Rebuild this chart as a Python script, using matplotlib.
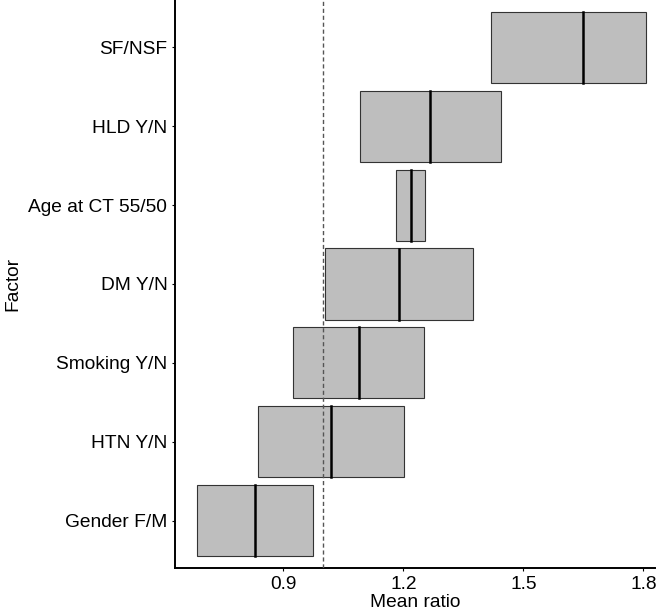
import matplotlib
matplotlib.use("Agg")
import matplotlib.pyplot as plt
from matplotlib.patches import Rectangle

factors = ["Gender F/M", "HTN Y/N", "Smoking Y/N", "DM Y/N", "Age at CT 55/50", "HLD Y/N", "SF/NSF"]
mean_ratio = [0.829, 1.019, 1.089, 1.189, 1.219, 1.266, 1.649]
ci_low = [0.683, 0.836, 0.924, 1.004, 1.181, 1.091, 1.419]
ci_high = [0.973, 1.201, 1.251, 1.374, 1.254, 1.444, 1.806]
xticks = [0.9, 1.2, 1.5, 1.8]

plt.rcParams['font.family'] = ['Liberation Sans', 'DejaVu Sans']

fig = plt.figure(figsize=(6.69, 6.13), dpi=100)
ax = fig.add_axes([175/669, 45/613, 480/669, 568/613])

h = 0.9
for i, (m, lo, hi) in enumerate(zip(mean_ratio, ci_low, ci_high)):
    y = i + 1
    ax.add_patch(Rectangle((lo, y - h/2), hi - lo, h, facecolor="#bebebe",
                           edgecolor="#333333", linewidth=0.8, zorder=2))
    ax.plot([m, m], [y - h/2, y + h/2], color="black", linewidth=1.8, zorder=3)

ax.axvline(1.0, color="#555555", linestyle=(0, (3, 2)), linewidth=1.0, zorder=4)

ax.set_xlim(0.629, 1.829)
ax.set_ylim(0.4, 7.6)
ax.set_yticks(range(1, len(factors) + 1))
ax.set_yticklabels(factors)
ax.set_xticks(xticks)
ax.set_xticklabels([f"{t:.1f}" for t in xticks])
ax.tick_params(axis="both", labelsize=13.8, colors="black", length=2.5, width=0.8, pad=3)
ax.set_xlabel("Mean ratio", fontsize=13.8, labelpad=1)
ax.set_ylabel("Factor", fontsize=13.8, labelpad=5)

for s in ["top", "right"]:
    ax.spines[s].set_visible(False)
for s in ["left", "bottom"]:
    ax.spines[s].set_linewidth(1.4)
    ax.spines[s].set_color("black")

fig.savefig("out.png", dpi=100)
